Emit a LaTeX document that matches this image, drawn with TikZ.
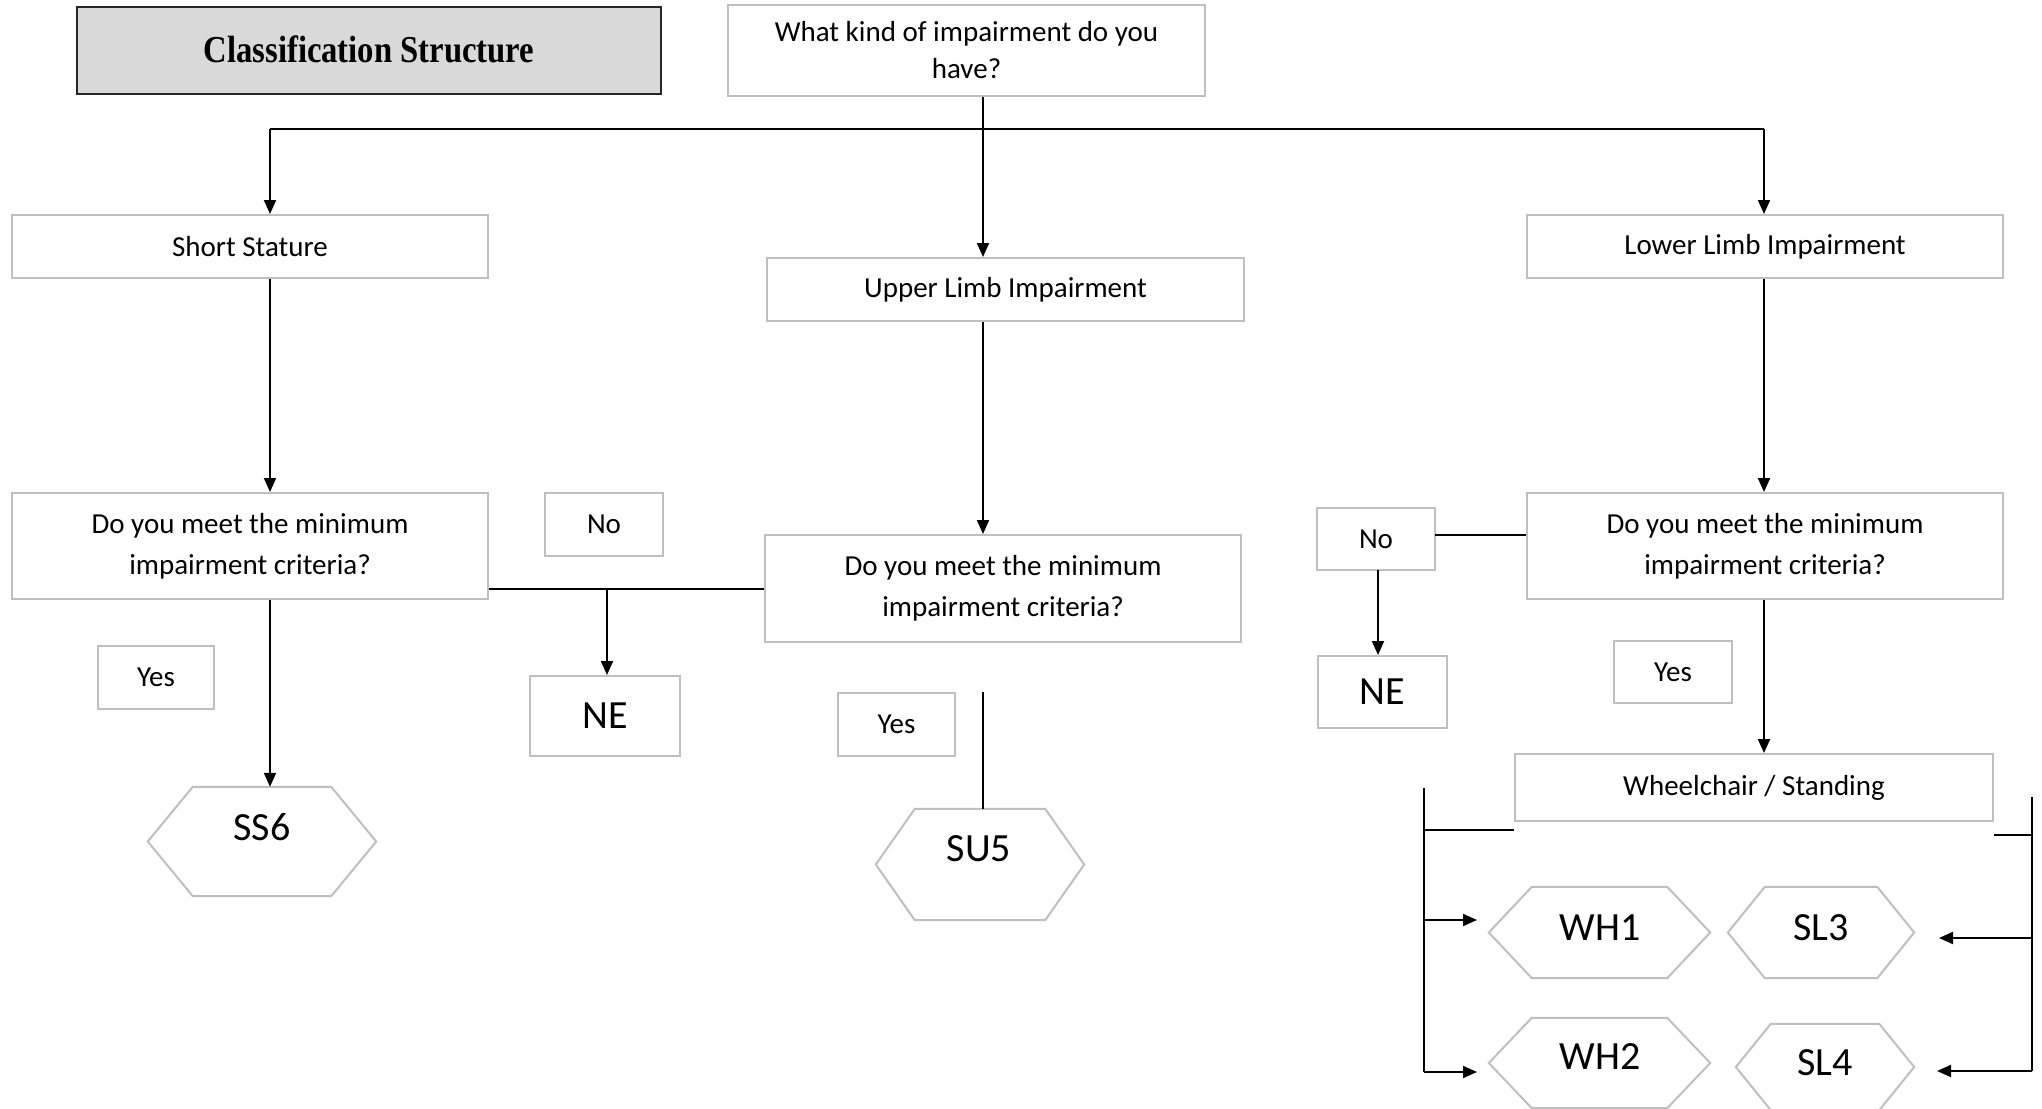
\documentclass[tikz,border=0pt]{standalone}
\usepackage{fontspec}
\usepackage{graphicx}
\setmainfont{Carlito}
\newfontfamily\titlefont{Liberation Serif}
\usetikzlibrary{arrows.meta,calc}
\definecolor{boxgray}{HTML}{BFBFBF}
\definecolor{titlefill}{HTML}{D9D9D9}
\tikzset{
  box/.style={draw=boxgray, line width=2pt, fill=white, inner sep=0pt, align=center, font=\fontsize{29}{39}\selectfont},
  critbox/.style={box, font=\fontsize{29}{41}\selectfont},
  bigbox/.style={box, font=\fontsize{40}{48}\selectfont},
  hexarea/.style={inner sep=0pt, draw=none},
  hexline/.style={draw=boxgray, line width=2pt, line join=miter},
  hextext/.style={inner sep=0pt, font=\fontsize{40}{48}\selectfont},
  conn/.style={draw=black, line width=2pt},
  arr/.style={conn, -{Triangle[length=14pt,width=12pt]}},
}
\newcommand{\hexdraw}[2]{%
  \draw[hexline] (#1.west) -- ($(#1.north west)+(#2,0)$) -- ($(#1.north east)+(-#2,0)$) -- (#1.east) -- ($(#1.south east)+(-#2,0)$) -- ($(#1.south west)+(#2,0)$) -- cycle;}
\begin{document}
\begin{tikzpicture}[x=1pt,y=-1pt]
\useasboundingbox (0,0) rectangle (2042,1108);
\clip (0,0) rectangle (2042,1108);
\fill[white] (0,0) rectangle (2042,1108);

% title
\node[draw=black!85, line width=2pt, fill=titlefill, minimum width=584, minimum height=87, inner sep=0pt] (title) at (369,50.5) {};
\node[inner sep=0pt] (titletext) at (369,49) {\scalebox{0.86}[1]{\titlefont\bfseries\fontsize{38}{44}\selectfont Classification Structure}};

% boxes
\node[box, minimum width=477, minimum height=91, font=\fontsize{29}{37}\selectfont] (q) at (966.5,50.5) {What kind of impairment do you\\have?};
\node[box, minimum width=476, minimum height=63] (short) at (250,246.5) {Short Stature};
\node[box, minimum width=477, minimum height=63] (upper) at (1005.5,289.5) {Upper Limb Impairment};
\node[box, minimum width=476, minimum height=63] (lower) at (1765,246.5) {Lower Limb Impairment};
\node[critbox, minimum width=476, minimum height=106] (crit1) at (250,546) {Do you meet the minimum\\impairment criteria?};
\node[critbox, minimum width=476, minimum height=107] (crit2) at (1003,588.5) {Do you meet the minimum\\impairment criteria?};
\node[critbox, minimum width=476, minimum height=106] (crit3) at (1765,546) {Do you meet the minimum\\impairment criteria?};
\node[box, minimum width=118, minimum height=63] (no1) at (604,524.5) {No};
\node[bigbox, minimum width=150, minimum height=80] (ne1) at (605,716) {NE};
\node[box, minimum width=116, minimum height=63] (yes1) at (156,677.5) {Yes};
\node[box, minimum width=117, minimum height=63] (yes2) at (896.5,724.5) {Yes};
\node[box, minimum width=118, minimum height=62] (no2) at (1376,539) {No};
\node[bigbox, minimum width=129, minimum height=72] (ne2) at (1382.5,692) {NE};
\node[box, minimum width=118, minimum height=62] (yes3) at (1673,672) {Yes};
\node[box, minimum width=478, minimum height=67] (wheel) at (1754,787.5) {Wheelchair / Standing};

% hexagons
\node[hexarea, minimum width=228, minimum height=109] (ss6) at (262,841.5) {};
\hexdraw{ss6}{45}
\node[hextext] (ss6t) at (262,827) {SS6};
\node[hexarea, minimum width=208, minimum height=111] (su5) at (980,864.5) {};
\hexdraw{su5}{39}
\node[hextext] (su5t) at (979,849) {SU5};
\node[hexarea, minimum width=221, minimum height=91] (wh1) at (1599.5,932.5) {};
\hexdraw{wh1}{43}
\node[hextext] (wh1t) at (1600,928) {WH1};
\node[hexarea, minimum width=186, minimum height=91] (sl3) at (1821,932.5) {};
\hexdraw{sl3}{37}
\node[hextext] (sl3t) at (1821,928) {SL3};
\node[hexarea, minimum width=221, minimum height=90] (wh2) at (1599.5,1063) {};
\hexdraw{wh2}{43}
\node[hextext] (wh2t) at (1600,1057) {WH2};
\node[hexarea, minimum width=178, minimum height=86] (sl4) at (1825,1067) {};
\hexdraw{sl4}{35}
\node[hextext] (sl4t) at (1825,1063) {SL4};

% connectors
\coordinate (trunk) at (983,129);
\coordinate (bl) at (270,129);
\coordinate (br) at (1764,129);
\draw[conn] (q.south -| trunk) -- (trunk);
\draw[conn] (bl) -- (br);
\draw[arr] (bl) -- (bl |- short.north);
\draw[arr] (trunk) -- (trunk |- upper.north);
\draw[arr] (br) -- (br |- lower.north);
\draw[arr] (bl |- short.south) -- (bl |- crit1.north);
\draw[arr] (trunk |- upper.south) -- (trunk |- crit2.north);
\draw[arr] (br |- lower.south) -- (br |- crit3.north);

\draw[conn] (crit1.east |- crit2.west) -- (crit2.west);
\coordinate (nej) at (607,588.5);
\draw[arr] (nej) -- (nej |- ne1.north);
\draw[arr] (bl |- crit1.south) -- (bl |- ss6.north);
\draw[conn] (trunk |- yes2.north) -- (trunk |- su5.north);

\coordinate (no2r) at (1435,535);
\draw[conn] (no2r) -- (no2r -| crit3.west);
\coordinate (ne2j) at (1378,570);
\draw[arr] (ne2j) -- (ne2j |- ne2.north);
\draw[arr] (br |- crit3.south) -- (br |- wheel.north);

% left bracket
\coordinate (lbt) at (1424,788);
\coordinate (lbh) at (1424,830);
\coordinate (lb1) at (1424,920);
\coordinate (lbb) at (1424,1072);
\coordinate (lb1e) at (1477,920);
\coordinate (lbbe) at (1477,1072);
\draw[conn] (lbt) -- (lbb);
\draw[conn] (lbh) -- (lbh -| wheel.west);
\draw[arr] (lb1) -- (lb1e);
\draw[arr] (lbb) -- (lbbe);

% right bracket
\coordinate (rbt) at (2032,797);
\coordinate (rbh) at (2032,835);
\coordinate (rb1) at (2032,938);
\coordinate (rbb) at (2032,1071);
\coordinate (rb1e) at (1939,938);
\coordinate (rbbe) at (1937,1071);
\draw[conn] (rbt) -- (rbb);
\draw[conn] (rbh -| wheel.east) -- (rbh);
\draw[arr] (rb1) -- (rb1e);
\draw[arr] (rbb) -- (rbbe);
\end{tikzpicture}
\end{document}
